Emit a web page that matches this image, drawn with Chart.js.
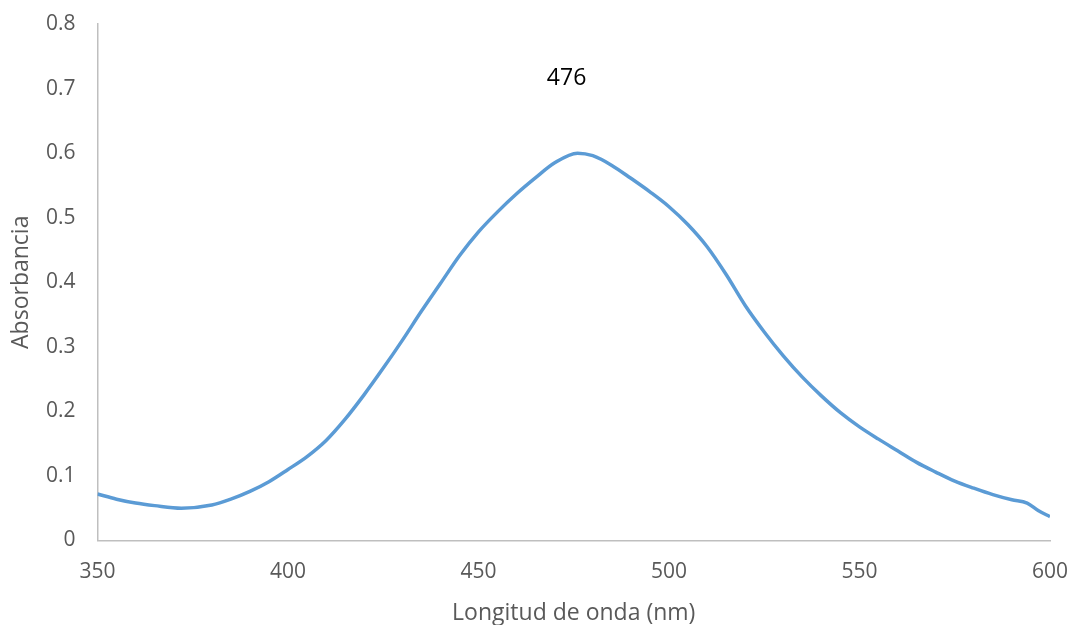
<!DOCTYPE html>
<html>
<head>
<meta charset="utf-8">
<title>Absorbancia</title>
<script src="https://cdn.jsdelivr.net/npm/chart.js@4.4.1/dist/chart.umd.min.js"></script>
<style>
  html, body { margin: 0; padding: 0; background: #ffffff; }
  #wrap { width: 1074px; height: 625px; position: relative; }
</style>
</head>
<body>
<div id="wrap"><canvas id="c" width="1074" height="625"></canvas></div>
<script>
// Absorption spectrum: wavelength (nm) and absorbance
const wavelengths = [350, 355, 360, 365, 372, 380, 385, 390, 395,
  400, 405, 410, 415, 420, 425, 430, 435, 440, 445,
  450, 455, 460, 465, 470, 476, 480, 485, 490, 495,
  500, 505, 510, 515, 520, 525, 530, 535, 540, 545,
  550, 555, 560, 565, 570, 575, 580, 585, 590, 594,
  597, 600];
const absorbance = [0.072, 0.064, 0.058, 0.054, 0.050, 0.055, 0.064, 0.076, 0.091,
  0.110, 0.130, 0.155, 0.188, 0.226, 0.267, 0.310, 0.355, 0.398, 0.441,
  0.478, 0.509, 0.537, 0.562, 0.585, 0.600, 0.596, 0.581, 0.561, 0.540,
  0.517, 0.489, 0.455, 0.412, 0.364, 0.323, 0.286, 0.253, 0.224, 0.198,
  0.176, 0.157, 0.139, 0.121, 0.106, 0.092, 0.081, 0.071, 0.063, 0.058,
  0.046, 0.037];

const xTickLabels = ['350', '400', '450', '500', '550', '600'];
const yTickLabels = ['0', '0.1', '0.2', '0.3', '0.4', '0.5', '0.6', '0.7', '0.8'];
const peakLabel = '476';

const points = wavelengths.map((w, i) => ({ x: w, y: absorbance[i] }));

const FONT = '"Open Sans", "DejaVu Sans", sans-serif';
const GREY_TEXT = '#595959';
const AXIS_LINE = '#BFBFBF';

// Label above the absorption maximum
const peakLabelPlugin = {
  id: 'peakLabel',
  afterDatasetsDraw(chart) {
    const meta = chart.getDatasetMeta(0);
    let iMax = 0;
    absorbance.forEach((v, i) => { if (v > absorbance[iMax]) iMax = i; });
    const pt = meta.data[iMax];
    const ctx = chart.ctx;
    ctx.save();
    ctx.font = '23px ' + FONT;
    ctx.fillStyle = '#000000';
    ctx.textAlign = 'center';
    ctx.textBaseline = 'middle';
    ctx.fillText(peakLabel, pt.x - 11, pt.y - 75);
    ctx.restore();
  }
};

new Chart(document.getElementById('c'), {
  type: 'line',
  data: {
    datasets: [{
      data: points,
      borderColor: '#5B9BD5',
      borderWidth: 3.5,
      pointRadius: 0,
      fill: false,
      cubicInterpolationMode: 'monotone'
    }]
  },
  options: {
    responsive: false,
    animation: false,
    events: [],
    layout: { padding: { top: 24, right: 24, left: 0, bottom: 0 } },
    plugins: { legend: { display: false }, tooltip: { enabled: false } },
    scales: {
      x: {
        type: 'linear',
        min: 350,
        max: 600,
        afterFit(scale) {
          scale.height = 84.5;
          scale.paddingLeft = 0;
          scale.paddingRight = 0;
        },
        afterBuildTicks(scale) {
          scale.ticks = xTickLabels.map(t => ({ value: Number(t) }));
        },
        ticks: {
          color: GREY_TEXT,
          font: { family: FONT, size: 21 },
          padding: 19,
          maxRotation: 0,
          autoSkip: false,
          callback: (v) => xTickLabels.find(t => Number(t) === v) ?? ''
        },
        grid: { display: false, drawTicks: false },
        border: { display: true, color: AXIS_LINE, width: 1.5 },
        title: {
          display: true,
          text: 'Longitud de onda (nm)',
          color: GREY_TEXT,
          font: { family: FONT, size: 23, lineHeight: 1.0 },
          padding: { top: 0, bottom: 0 }
        }
      },
      y: {
        min: 0,
        max: 0.8,
        afterFit(scale) {
          scale.width = 97.5;
          scale.paddingTop = 0;
          scale.paddingBottom = 0;
        },
        afterBuildTicks(scale) {
          scale.ticks = yTickLabels.map(t => ({ value: Number(t) }));
        },
        ticks: {
          color: GREY_TEXT,
          font: { family: FONT, size: 21 },
          padding: 22,
          autoSkip: false,
          callback: (v) => yTickLabels.find(t => Math.abs(Number(t) - v) < 1e-9) ?? ''
        },
        grid: { display: false, drawTicks: false },
        border: { display: true, color: AXIS_LINE, width: 1.5 },
        title: {
          display: true,
          text: 'Absorbancia',
          color: GREY_TEXT,
          font: { family: FONT, size: 23 },
          padding: { top: 8, bottom: 0 }
        }
      }
    }
  },
  plugins: [peakLabelPlugin]
});
</script>
</body>
</html>
